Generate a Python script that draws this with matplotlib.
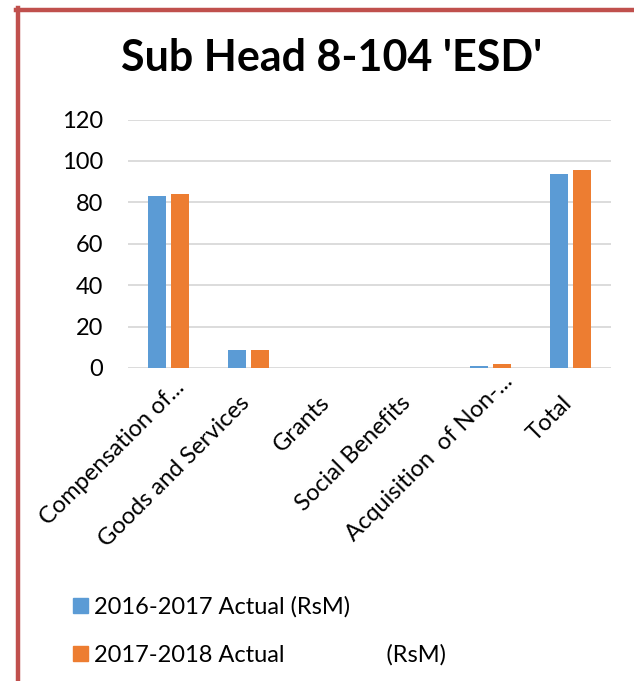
import matplotlib
matplotlib.use("Agg")
import matplotlib.pyplot as plt
from matplotlib.lines import Line2D
from matplotlib.patches import Patch
from matplotlib.transforms import ScaledTranslation
import numpy as np

categories = ["Compensation of...", "Goods and Services", "Grants", "Social Benefits",
              "Acquisition  of Non-...", "Total"]
actual_2016_2017 = [82.9, 8.5, 0, 0, 1.1, 93.6]
actual_2017_2018 = [83.9, 8.8, 0, 0, 2.1, 95.5]
series_labels = ["2016-2017 Actual (RsM)", "2017-2018 Actual" + " " * 17 + "(RsM)"]
yticks = [0, 20, 40, 60, 80, 100, 120]

# label layout tweaks (pixels): shift along text direction for truncated labels
label_shift = [22, 0, 0, 0, 30, 0]

blue = "#5b9bd5"
orange = "#ed7d31"
plt.rcParams['font.family'] = ['Lato', 'DejaVu Sans']

W, H = 634, 681
DPI = 100
fig = plt.figure(figsize=(W / DPI, H / DPI), dpi=DPI)

ax = fig.add_axes([128 / W, 1 - 368 / H, (611 - 128) / W, (368 - 119.6) / H])
x = np.arange(len(categories))
bw = 0.225
off = 0.143
ax.bar(x - off, actual_2016_2017, bw, color=blue, zorder=3)
ax.bar(x + off, actual_2017_2018, bw, color=orange, zorder=3)
ax.set_xlim(-0.5, len(categories) - 0.5)
ax.set_ylim(0, 120)
ax.set_yticks(yticks)
ax.set_yticklabels([str(v) for v in yticks], fontsize=17)
ax.yaxis.grid(True, color="#d9d9d9", linewidth=1.3, zorder=0)
ax.set_axisbelow(True)
for s in ax.spines.values():
    s.set_visible(False)
ax.tick_params(axis='both', length=0)
ax.tick_params(axis='y', pad=18)
ax.set_xticks(x)
ax.set_xticklabels([])

c = np.cos(np.radians(45))
for i, lab in enumerate(categories):
    dx = (2 + c * label_shift[i]) / DPI
    dy = (-36 + c * label_shift[i]) / DPI
    tr = ax.get_xaxis_transform() + ScaledTranslation(dx, dy, fig.dpi_scale_trans)
    ax.text(i, 0, lab, transform=tr, rotation=45, ha='right', va='baseline',
            rotation_mode='anchor', fontsize=17)

fig.text(332 / W, 1 - 58 / H, "Sub Head 8-104 'ESD'", ha='center', va='center',
         fontsize=31, fontweight='bold')

handles = [Patch(color=blue), Patch(color=orange)]
leg = fig.legend(handles, series_labels, loc='upper left', bbox_to_anchor=(54 / W, 1 - 577 / H),
                 frameon=False, fontsize=17, handlelength=0.63, handleheight=0.6,
                 handletextpad=0.27, labelspacing=1.15, borderpad=0.3)

border = "#c0504d"
fig.add_artist(Line2D([17.5 / W, 17.5 / W], [0, 1 - 8 / H], color=border, linewidth=3.2,
                      transform=fig.transFigure))
fig.add_artist(Line2D([16 / W, 1], [1 - 9.5 / H, 1 - 9.5 / H], color=border, linewidth=3.2,
                      transform=fig.transFigure))

fig.savefig("out.png", dpi=DPI)
